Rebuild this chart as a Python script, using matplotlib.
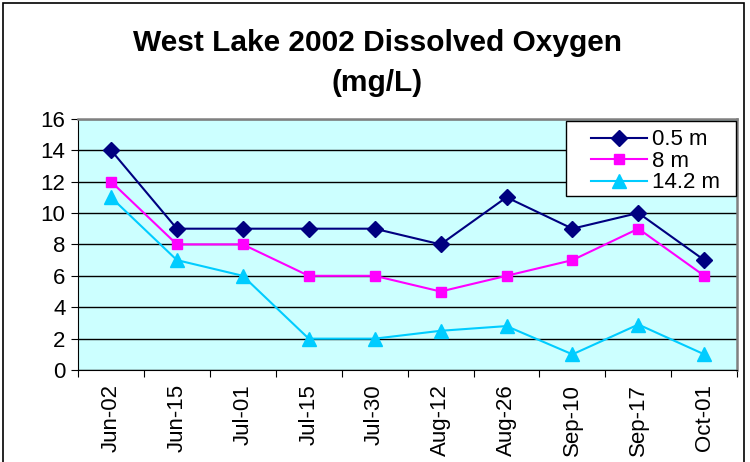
import matplotlib

matplotlib.use("Agg")
import matplotlib.pyplot as plt
from matplotlib.patches import Rectangle

dates = ["Jun-02", "Jun-15", "Jul-01", "Jul-15", "Jul-30", "Aug-12", "Aug-26", "Sep-10", "Sep-17", "Oct-01"]
depth_05 = [14, 9, 9, 9, 9, 8, 11, 9, 10, 7]
depth_8 = [12, 8, 8, 6, 6, 5, 6, 7, 9, 6]
depth_142 = [11, 7, 6, 2, 2, 2.5, 2.8, 1, 2.9, 1]

plt.rcParams["font.family"] = ["Liberation Sans", "DejaVu Sans"]

fig = plt.figure(figsize=(7.5, 4.62), dpi=100)
# outer chart border
fig.patches.append(Rectangle((0.004, -0.01), 0.988, 1.003, transform=fig.transFigure,
                             fill=False, edgecolor="black", linewidth=1.2))

ax = fig.add_axes([0.104, 0.199, 0.879, 0.544])
ax.set_facecolor("#CCFFFF")
x = list(range(len(dates)))
ax.plot(x, depth_05, color="#000080", marker="D", markersize=8, linewidth=1.5, label="0.5 m")
ax.plot(x, depth_8, color="#FF00FF", marker="s", markersize=7.5, linewidth=1.5, label="8 m")
ax.plot(x, depth_142, color="#00CCFF", marker="^", markersize=9.5, linewidth=1.5, label="14.2 m")

ax.set_xlim(-0.5, len(dates) - 0.5)
ax.set_ylim(0, 16)
ax.set_yticks(range(0, 17, 2))
ax.yaxis.grid(True, color="black", linewidth=1)
ax.set_axisbelow(True)
# Excel style: ticks between categories, labels centred on categories
ax.set_xticks([i - 0.5 for i in range(len(dates) + 1)])
ax.set_xticklabels([])
ax.set_xticks(x, minor=True)
ax.set_xticklabels(dates, minor=True, rotation=90, fontsize=16)
ax.tick_params(axis="x", which="minor", length=0, pad=10)
ax.tick_params(axis="x", which="major", length=5, direction="out")
ax.tick_params(axis="y", labelsize=16, length=5, direction="out", pad=4)
for side in ["top", "right"]:
    ax.spines[side].set_color("#808080")
    ax.spines[side].set_linewidth(1.8)
for side in ["left", "bottom"]:
    ax.spines[side].set_color("black")

# legend box is wider than the entries, as in Excel
ax.add_patch(Rectangle((0.7405, 0.694), 0.258, 0.298, transform=ax.transAxes,
                       facecolor="white", edgecolor="black", linewidth=1, zorder=4.5,
                       clip_on=False))
leg = ax.legend(loc="upper left", bbox_to_anchor=(0.768, 0.984), fontsize=16, frameon=False,
                borderpad=0.3, labelspacing=0.02, handlelength=2.5, handletextpad=0.25,
                borderaxespad=0)
leg.set_zorder(5)

fig.text(0.503, 0.906, "West Lake 2002 Dissolved Oxygen", ha="center", va="center",
         fontsize=21.5, fontweight="bold")
fig.text(0.503, 0.82, "(mg/L)", ha="center", va="center", fontsize=21.5, fontweight="bold")

fig.savefig("out.png", dpi=100)
